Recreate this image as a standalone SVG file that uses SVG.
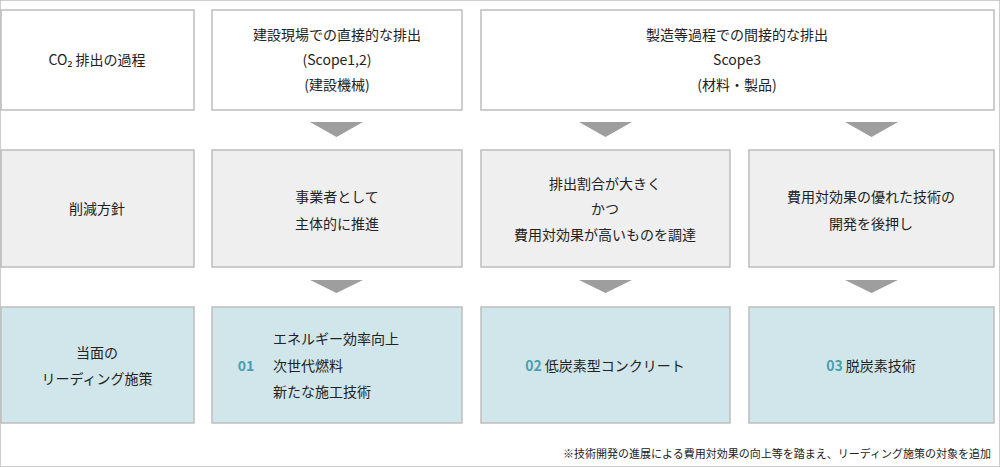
<svg xmlns="http://www.w3.org/2000/svg" width="1000" height="467" viewBox="0 0 1000 467">
<style>
rect{stroke:#bdbdbd;stroke-width:1.5}
.w{fill:#fff}.g{fill:#efefef}.b{fill:#d1e6ea}
text{font-family:"Noto Sans CJK JP","Noto Sans",sans-serif;font-size:14px;fill:#222;text-anchor:middle}
.n{fill:#4a9fae;font-size:14px;font-weight:bold}
.s{font-size:11px;text-anchor:end}
.a{fill:#9e9e9e}
</style>
<rect x="0" y="0" width="1000" height="467" fill="#fff" stroke="none"/>
<g id="r1c1"><rect class="w" x="1" y="10" width="193" height="100"/><text x="97" y="65">CO₂ 排出の過程</text></g>
<g id="r1c2"><rect class="w" x="212" y="10" width="250" height="100"/><text x="337" y="40">建設現場での直接的な排出</text><text x="337" y="65">(Scope1,2)</text><text x="337" y="90">(建設機械)</text></g>
<g id="r1c3"><rect class="w" x="481" y="10" width="513" height="100"/><text x="737" y="40">製造等過程での間接的な排出</text><text x="737" y="65">Scope3</text><text x="737" y="90">(材料・製品)</text></g>
<g id="r2c1"><rect class="g" x="1" y="150" width="193" height="117"/><text x="97" y="214">削減方針</text></g>
<g id="r2c2"><rect class="g" x="212" y="150" width="250" height="117"/><text x="337" y="202">事業者として</text><text x="337" y="229">主体的に推進</text></g>
<g id="r2c3"><rect class="g" x="481" y="150" width="249" height="117"/><text x="605" y="189">排出割合が大きく</text><text x="605" y="214">かつ</text><text x="605" y="240">費用対効果が高いものを調達</text></g>
<g id="r2c4"><rect class="g" x="749" y="150" width="245" height="117"/><text x="871" y="202">費用対効果の優れた技術の</text><text x="871" y="229">開発を後押し</text></g>
<g id="r3c1"><rect class="b" x="1" y="307" width="193" height="116"/><text x="97" y="358">当面の</text><text x="97" y="384">リーディング施策</text></g>
<g id="r3c2"><rect class="b" x="212" y="307" width="250" height="116"/><text class="n" x="246" y="371">01</text><text x="273" y="344" style="text-anchor:start">エネルギー効率向上</text><text x="273" y="371" style="text-anchor:start">次世代燃料</text><text x="273" y="397" style="text-anchor:start">新たな施工技術</text></g>
<g id="r3c3"><rect class="b" x="481" y="307" width="249" height="116"/><text x="605" y="371"><tspan class="n">02</tspan>  低炭素型コンクリート</text></g>
<g id="r3c4"><rect class="b" x="749" y="307" width="245" height="116"/><text x="871" y="371"><tspan class="n">03</tspan>  脱炭素技術</text></g>
<g id="connectors">
<polygon class="a" points="310,122 363,122 336.5,137"/>
<polygon class="a" points="579,122 632,122 605.5,137"/>
<polygon class="a" points="845,122 898,122 871.5,137"/>
<polygon class="a" points="310,280 363,280 336.5,293"/>
<polygon class="a" points="579,280 632,280 605.5,293"/>
<polygon class="a" points="845,280 898,280 871.5,293"/>
</g>
<text class="s" x="991" y="458">※技術開発の進展による費用対効果の向上等を踏まえ、リーディング施策の対象を追加</text>
</svg>
